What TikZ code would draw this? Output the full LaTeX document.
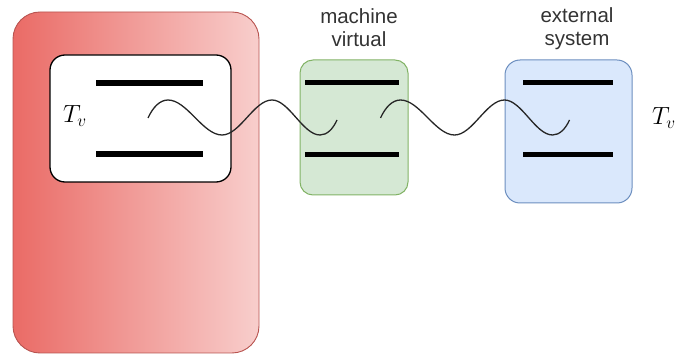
\documentclass[tikz,border=0pt]{standalone}
\usepackage{fontspec}
\setmainfont{Liberation Sans}
\definecolor{redL}{HTML}{EA6B66}
\definecolor{redR}{HTML}{F8CECC}
\definecolor{redLine}{HTML}{B85450}
\definecolor{greenFill}{HTML}{D5E8D4}
\definecolor{greenLine}{HTML}{82B366}
\definecolor{blueFill}{HTML}{DAE8FC}
\definecolor{blueLine}{HTML}{6C8EBF}
\definecolor{txt}{HTML}{333333}
\begin{document}
\begin{tikzpicture}[x=1pt,y=-1pt,
  panel/.style={anchor=north west, inner sep=0pt, outer sep=0pt},
  bar/.style={line width=5.5pt, black},
  wave/.style={line width=1.3pt, black!85},
  label/.style={text=txt, font=\fontsize{20.5}{23.5}\selectfont, align=center, inner sep=0pt, anchor=base},
  tv/.style={font=\fontsize{23.5}{27}\selectfont, inner sep=0pt, anchor=base west}]
\useasboundingbox (0,0) rectangle (678,358);
% host
\node[panel, minimum width=246pt, minimum height=341pt, rounded corners=27pt,
      draw=redLine, line width=0.9pt, left color=redL, right color=redR] (host) at (13,12) {};
\node[panel, minimum width=181pt, minimum height=127pt, rounded corners=15pt,
      draw=black, line width=1.3pt, fill=white] (inner) at (50,55) {};
\node[panel, minimum width=108pt, minimum height=135pt, rounded corners=13pt,
      draw=greenLine, line width=1pt, fill=greenFill] (vm) at (300,60) {};
\node[panel, minimum width=127pt, minimum height=143pt, rounded corners=15pt,
      draw=blueLine, line width=1pt, fill=blueFill] (ext) at (505,60) {};
% bars
\draw[bar] (96,83) -- (203,83);
\draw[bar] (96,154) -- (203,154);
\draw[bar] (305,82.5) -- (399,82.5);
\draw[bar] (305,154.5) -- (399,154.5);
\draw[bar] (523,82.5) -- (613,82.5);
\draw[bar] (523,154.5) -- (613,154.5);
% waves
\draw[wave] (148,118) .. controls (153,107) and (160,100) .. (168,100)
  .. controls (187,100) and (203,135) .. (222,135)
  .. controls (240,135) and (254,100) .. (272,100)
  .. controls (289,100) and (303,135) .. (320,135)
  .. controls (327,135) and (333,129) .. (337,120);
\begin{scope}[shift={(232.5,0)}]
\draw[wave] (148,118) .. controls (153,107) and (160,100) .. (168,100)
  .. controls (187,100) and (203,135) .. (222,135)
  .. controls (240,135) and (254,100) .. (272,100)
  .. controls (289,100) and (303,135) .. (320,135)
  .. controls (327,135) and (333,129) .. (337,120);
\end{scope}
% labels
\node[label] (vmlabel) at (359,47) {machine\\virtual};
\node[label] (extlabel) at (577,46) {external\\system};
\node[tv] (tvleft) at (63,123) {$T_v$};
\node[tv] (tvright) at (652,125) {$T_v$};
\end{tikzpicture}
\end{document}
